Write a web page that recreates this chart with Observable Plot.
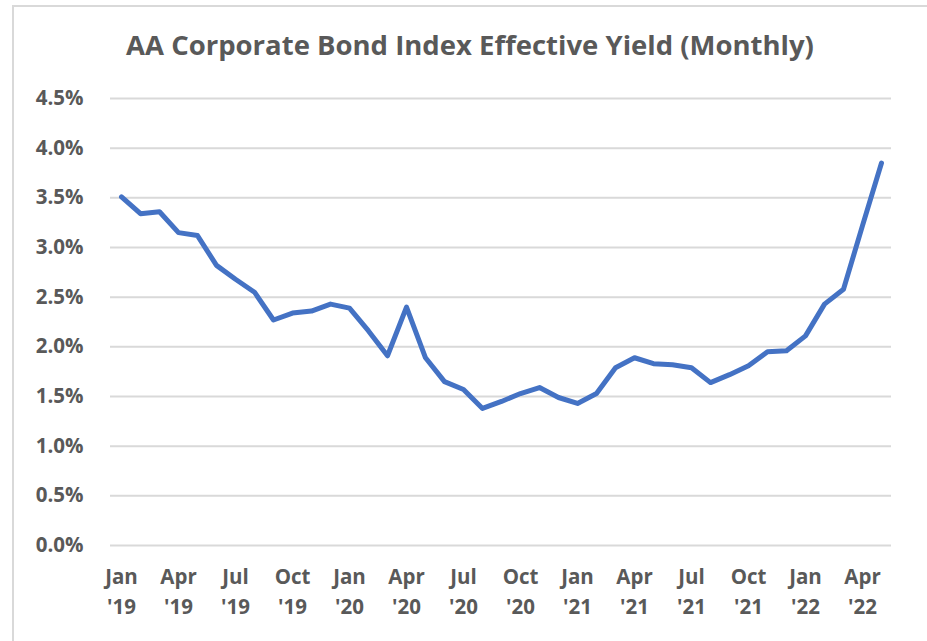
<!DOCTYPE html>
<html>
<head>
<meta charset="utf-8">
<script src="https://cdn.jsdelivr.net/npm/d3@7"></script>
<script src="https://cdn.jsdelivr.net/npm/@observablehq/plot@0.6"></script>
<style>
  html, body { margin: 0; padding: 0; background: #fff; width: 927px; height: 641px; overflow: hidden; }
  #frame { position: absolute; left: 12px; top: 5px; width: 1000px; height: 700px;
           border-left: 2px solid #d9d9d9; border-top: 2px solid #d9d9d9; }
  #title { position: absolute; left: 0; top: 25px; width: 940px; text-align: center;
           font-family: "Open Sans", sans-serif; font-weight: 700; font-size: 27.5px; line-height: 40px; color: #595959; }
  #chart { position: absolute; left: 0; top: 80px; }
</style>
</head>
<body>
<div id="frame"></div>
<div id="title">AA Corporate Bond Index Effective Yield (Monthly)</div>
<div id="chart"></div>
<script>
const months = [
  "Jan '19","Feb '19","Mar '19","Apr '19","May '19","Jun '19","Jul '19","Aug '19","Sep '19","Oct '19","Nov '19","Dec '19",
  "Jan '20","Feb '20","Mar '20","Apr '20","May '20","Jun '20","Jul '20","Aug '20","Sep '20","Oct '20","Nov '20","Dec '20",
  "Jan '21","Feb '21","Mar '21","Apr '21","May '21","Jun '21","Jul '21","Aug '21","Sep '21","Oct '21","Nov '21","Dec '21",
  "Jan '22","Feb '22","Mar '22","Apr '22","May '22"
];
const yields = [
  3.51, 3.34, 3.36, 3.15, 3.12, 2.82, 2.68, 2.55, 2.27, 2.34, 2.36, 2.43,
  2.39, 2.16, 1.91, 2.40, 1.89, 1.65, 1.57, 1.38, 1.45, 1.53, 1.59, 1.49,
  1.43, 1.53, 1.79, 1.89, 1.83, 1.82, 1.79, 1.64, 1.72, 1.81, 1.95, 1.96,
  2.11, 2.43, 2.58, 3.22, 3.85
];
const xTicks = ["Jan '19","Apr '19","Jul '19","Oct '19","Jan '20","Apr '20","Jul '20","Oct '20",
  "Jan '21","Apr '21","Jul '21","Oct '21","Jan '22","Apr '22"];
const yTicks = [0, 0.5, 1, 1.5, 2, 2.5, 3, 3.5, 4, 4.5];

const data = months.map((m, i) => ({month: m, value: yields[i]}));

const chart = Plot.plot({
  width: 927,
  height: 561,
  marginLeft: 110,
  marginRight: 36,
  marginTop: 18,
  marginBottom: 96,
  style: {fontFamily: "Open Sans, sans-serif", fontWeight: 700, fontSize: "20.5px", color: "#595959", background: "transparent"},
  x: {type: "point", domain: months, padding: 0.5},
  y: {domain: [0, 4.5]},
  marks: [
    Plot.gridY(yTicks, {stroke: "#d9d9d9", strokeOpacity: 1, strokeWidth: 2}),
    Plot.axisY(yTicks, {tickSize: 0, tickPadding: 27, tickFormat: d => d.toFixed(1) + "%", label: null, fill: "#595959"}),
    Plot.axisX(xTicks, {tickSize: 0, tickPadding: 17, tickFormat: d => d.replace(" ", "\n"), lineHeight: 1.47, label: null, fill: "#595959"}),
    Plot.line(data, {x: "month", y: "value", stroke: "#4472C4", strokeWidth: 5, strokeLinejoin: "round", strokeLinecap: "round"})
  ]
});
document.getElementById("chart").appendChild(chart);
</script>
</body>
</html>
